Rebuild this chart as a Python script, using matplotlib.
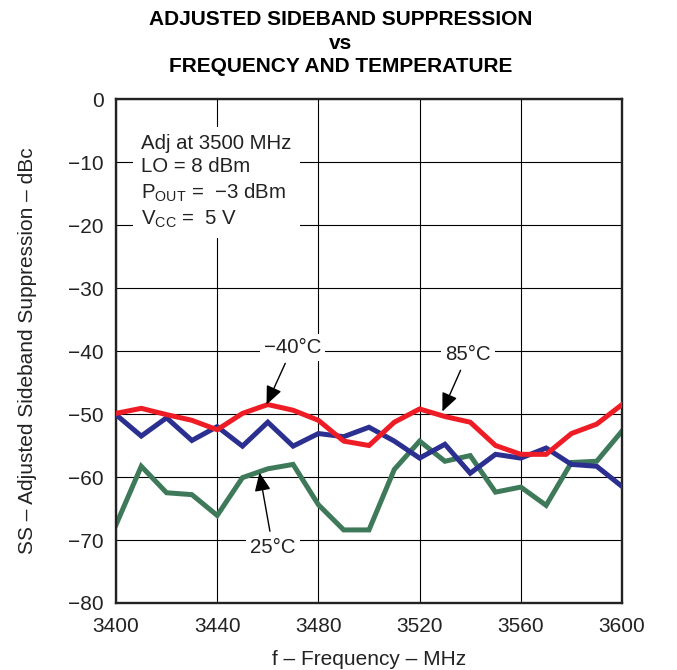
import matplotlib
matplotlib.use('Agg')
import matplotlib.pyplot as plt
import numpy as np

plt.rcParams['font.family'] = ['Liberation Sans', 'DejaVu Sans']
plt.rcParams['mathtext.fontset'] = 'custom'
plt.rcParams['mathtext.rm'] = 'Liberation Sans'
plt.rcParams['mathtext.it'] = 'Liberation Sans'

# frequency, MHz
freq = [3400, 3410, 3420, 3430, 3440, 3450, 3460, 3470, 3480, 3490, 3500,
        3510, 3520, 3530, 3540, 3550, 3560, 3570, 3580, 3590, 3600]
# adjusted sideband suppression, dBc
ss_m40 = [-50.1, -53.5, -50.6, -54.2, -52.0, -55.1, -51.3, -55.1, -53.1, -53.6, -52.1,
          -54.3, -57.0, -54.8, -59.4, -56.4, -57.0, -55.4, -58.0, -58.3, -61.5]
ss_25 = [-67.6, -58.3, -62.5, -62.8, -66.1, -60.1, -58.7, -58.0, -64.4, -68.4, -68.4,
         -58.8, -54.3, -57.5, -56.6, -62.4, -61.6, -64.5, -57.7, -57.5, -52.7]
ss_85 = [-49.9, -49.1, -50.1, -51.0, -52.5, -49.9, -48.5, -49.4, -51.0, -54.3, -55.0,
         -51.3, -49.2, -50.4, -51.3, -55.0, -56.4, -56.4, -53.1, -51.6, -48.5]

fig = plt.figure(figsize=(6.77, 6.70), dpi=100)
ax = fig.add_axes([0.1713, 0.1, 0.7475, 0.7522])

ax.plot(freq, ss_m40, color='#2b2f90', lw=3.6, solid_joinstyle='miter', zorder=3)
ax.plot(freq, ss_85, color='#ee1c25', lw=3.6, solid_joinstyle='miter', zorder=4)
ax.plot(freq, ss_25, color='#3e7a5a', lw=3.6, solid_joinstyle='miter', zorder=2)

ax.set_xlim(3400, 3600)
ax.set_ylim(-80, 0)
ax.set_xticks(np.arange(3400, 3601, 40))
ax.set_yticks(np.arange(-80, 1, 10))
ax.grid(True, color='black', lw=0.8)
ax.set_axisbelow(True)
ax.tick_params(length=0, labelsize=15, labelcolor='#222222')
ax.tick_params(axis='y', pad=9)
ax.tick_params(axis='x', pad=10)
for s in ax.spines.values():
    s.set_linewidth(1.7)
    s.set_color('#222222')

ax.set_xlabel('f \u2013 Frequency \u2013 MHz', fontsize=15, labelpad=10, color='#222222')
ax.set_ylabel('SS \u2013 Adjusted Sideband Suppression \u2013 dBc', fontsize=15, labelpad=22,
              color='#222222')

fig.text(0.503, 0.985, 'ADJUSTED SIDEBAND SUPPRESSION\nvs\nFREQUENCY AND TEMPERATURE',
         ha='center', va='top', fontsize=15, fontweight='bold', linespacing=1.3)

ax.text(3410, -5.5, 'Adj at 3500 MHz\nLO = 8 dBm\nP$_{\\mathrm{OUT}}$ =  \u22123 dBm\nV$_{\\mathrm{CC}}$ =  5 V',
        ha='left', va='top', fontsize=14.7, linespacing=1.3, zorder=5, color='#222222',
        bbox=dict(fc='white', ec='none', pad=6))

arrow = dict(arrowstyle='-|>,head_length=0.8,head_width=0.35', color='black', lw=1.0,
             mutation_scale=14, shrinkA=2, shrinkB=0)
bb = dict(fc='white', ec='none', pad=3)
ax.annotate('\u221240\u00b0C', xy=(3459.5, -48.5), xytext=(3469.8, -39.4), ha='center', va='center',
            fontsize=14.7, arrowprops=arrow, bbox=bb, zorder=6, color='#222222')
ax.annotate('85\u00b0C', xy=(3529, -49.6), xytext=(3539, -40.5), ha='center', va='center',
            fontsize=14.7, arrowprops=arrow, bbox=bb, zorder=6, color='#222222')
ax.annotate('25\u00b0C', xy=(3456.7, -59.3), xytext=(3462, -71.2), ha='center', va='center',
            fontsize=14.7, arrowprops=arrow, bbox=bb, zorder=6, color='#222222')

fig.savefig('out.png', dpi=100)
